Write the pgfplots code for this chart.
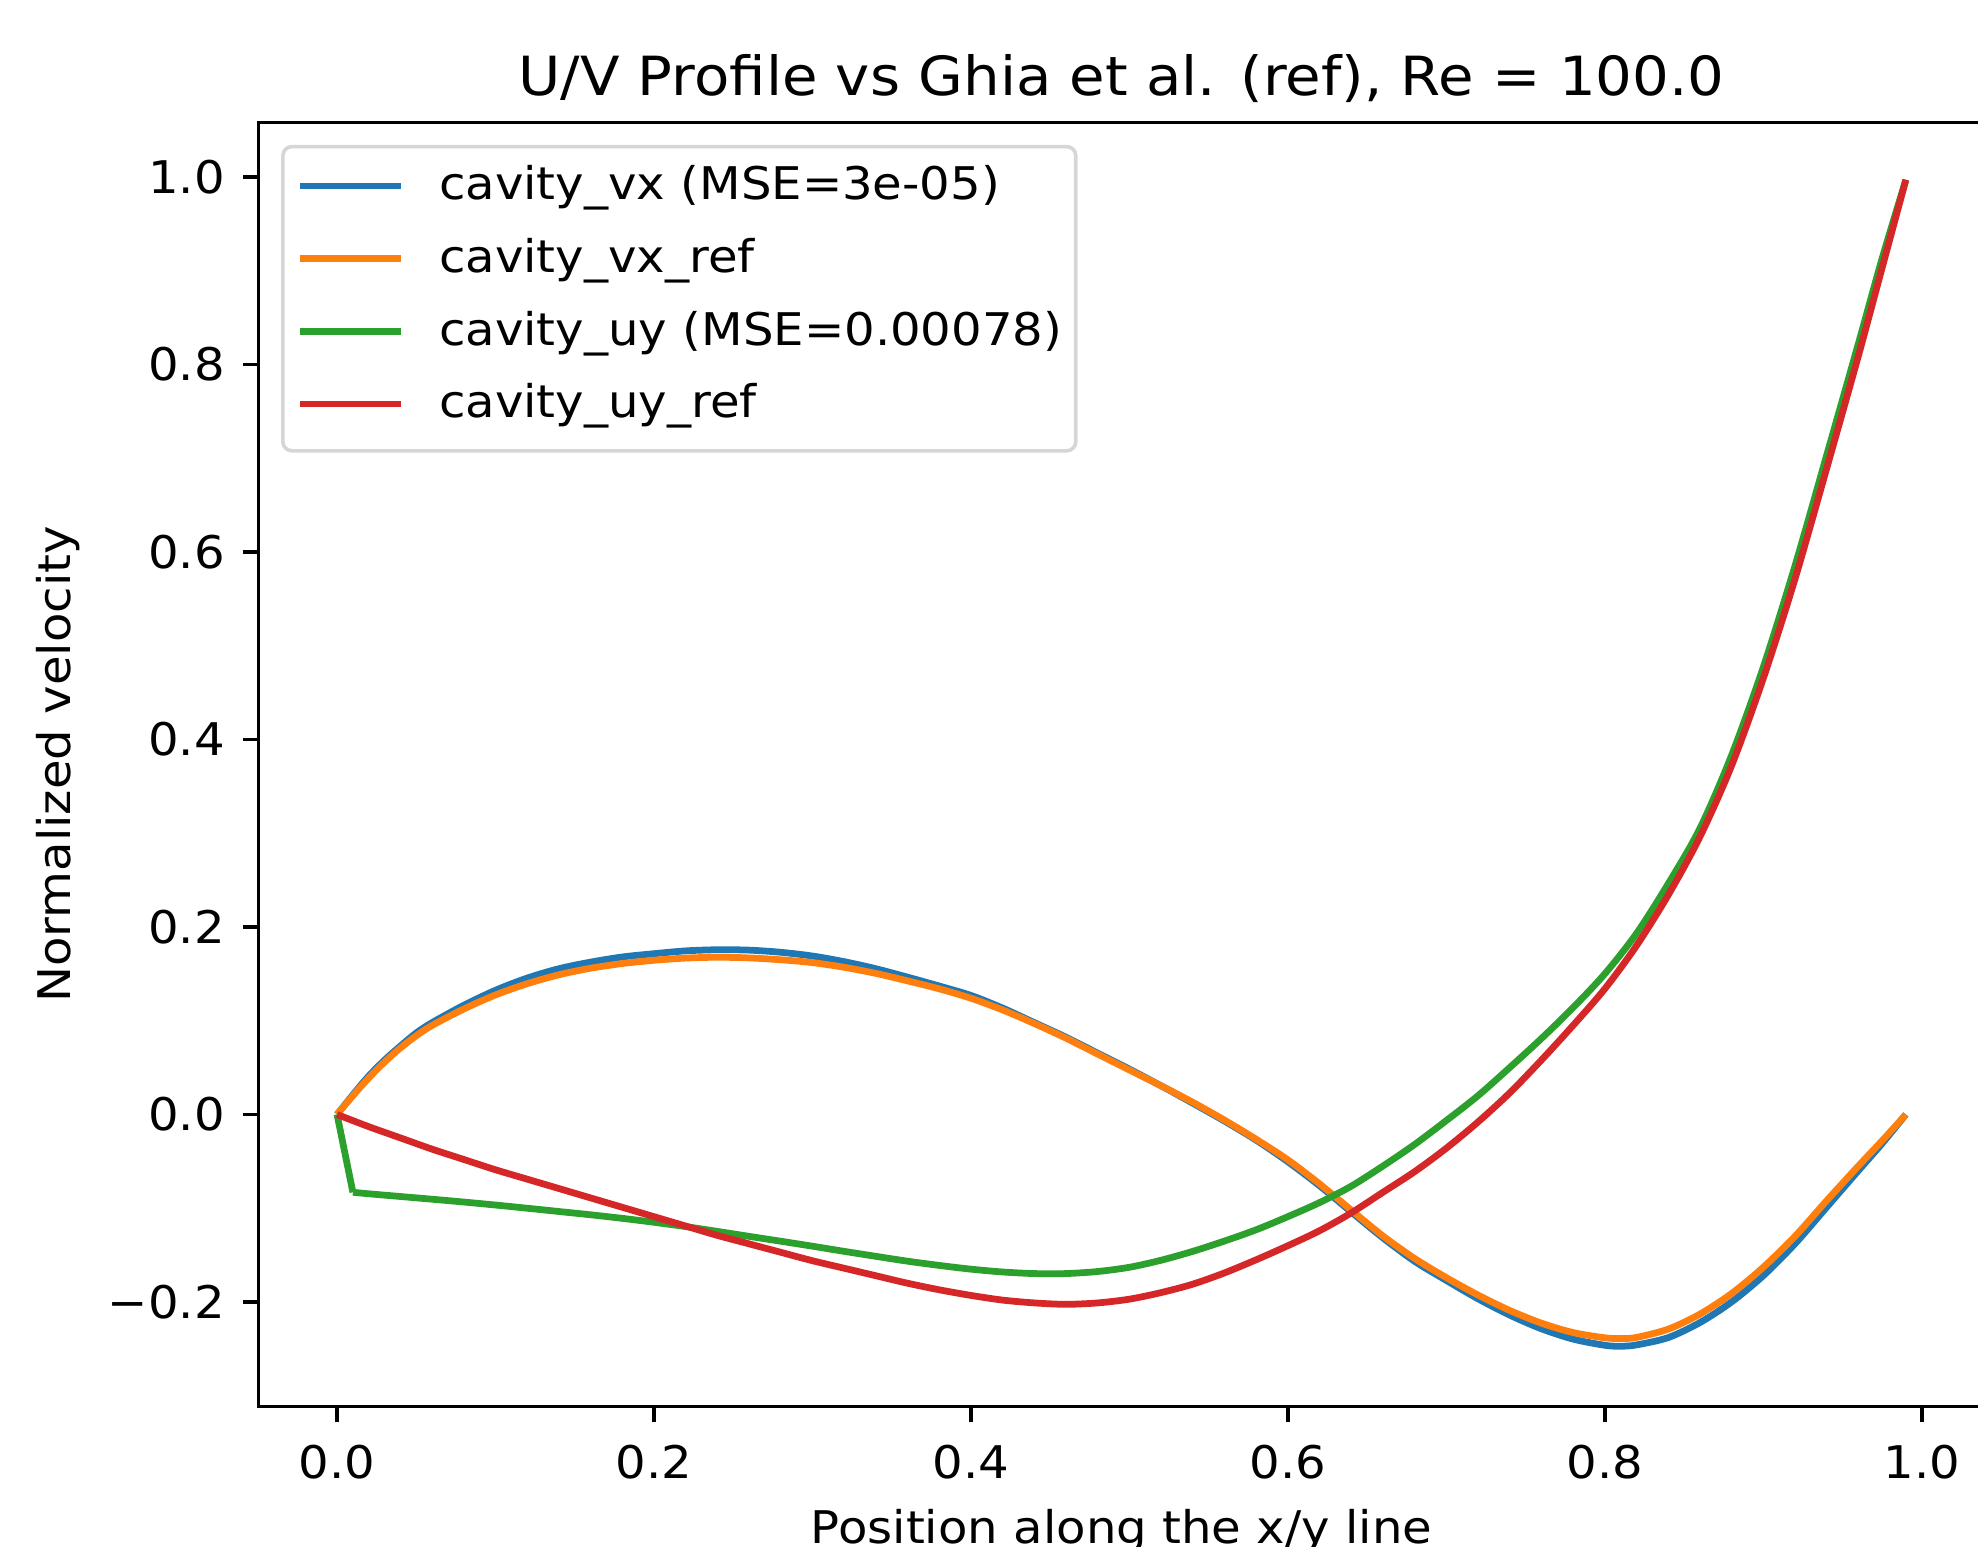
\documentclass[border=0pt]{standalone}
\usepackage{fontspec}
\setmainfont{DejaVu Sans}[FakeStretch=1.07]
\usepackage{pgfplots}
\pgfplotsset{compat=1.18}
\definecolor{tabblue}{HTML}{1F77B4}
\definecolor{taborange}{HTML}{FF7F0E}
\definecolor{tabgreen}{HTML}{2CA02C}
\definecolor{tabred}{HTML}{D62728}
\begin{document}
\begin{tikzpicture}
\useasboundingbox (-57.47pt,-30.96pt) rectangle (382.09pt,312.6pt);
\clip (-57.47pt,-30.96pt) rectangle (382.09pt,312.6pt);
\begin{axis}[
  at={(0pt,0pt)}, anchor=south west,
  scale only axis, width=383.49pt, height=285.42pt,
  xmin=-0.0495, xmax=1.0395, ymin=-0.3117, ymax=1.0583,
  axis line style={line width=0.8pt, black},
  tick align=outside, major tick length=3.5pt,
  every tick/.style={black, line width=0.8pt},
  tick pos=left,
  /pgf/number format/assume math mode=true,
  xtick={0,0.2,0.4,0.6,0.8,1.0}, xticklabels={0.0,0.2,0.4,0.6,0.8,1.0},
  ytick={-0.2,0,0.2,0.4,0.6,0.8,1.0}, yticklabels={−0.2,0.0,0.2,0.4,0.6,0.8,1.0},
  ticklabel style={font=\fontsize{10}{12}\selectfont, inner sep=0pt},
  xticklabel style={anchor=base, yshift=-12.4pt},
  yticklabel style={anchor=east, xshift=-3.8pt},
  title={U/V Profile vs Ghia et al. (ref), Re = 100.0},
  title style={at={(axis description cs:0.5,1)}, anchor=base, inner sep=0pt, font=\fontsize{12}{14.4}\selectfont},
  xlabel={Position along the x/y line},
  xlabel style={at={(axis description cs:0.5,0)}, anchor=base, yshift=-30.4pt, inner sep=0pt, font=\fontsize{10}{12}\selectfont},
  ylabel={Normalized velocity},
  ylabel style={at={(axis description cs:-0.1160,0.5)}, anchor=center, inner sep=0pt, font=\fontsize{10}{12}\selectfont},
  legend style={at={(axis description cs:0,1)}, anchor=north west, xshift=5pt, yshift=-5pt,
    draw=black!16, line width=0.8pt, rounded corners=2pt, fill=white,
    inner xsep=3pt, inner ysep=4pt, row sep=5pt, column sep=7.8pt,
    font=\fontsize{10}{12}\selectfont,
    nodes={inner sep=0pt, text height=7.8pt, text depth=3.35pt}},
  legend cell align=left,
  legend image code/.code={\draw[#1, line width=1.5pt, line cap=butt] (0pt,0.8pt) -- (22.4pt,0.8pt);},
]
\addplot[tabblue, line width=1.5pt, smooth, tension=0.5, line join=round] coordinates {
(0,0) (0.01,0.021) (0.02,0.041) (0.03,0.058) (0.04,0.073) (0.05,0.087) (0.06,0.098)
(0.08,0.1165) (0.10,0.1325) (0.12,0.1455) (0.14,0.1555) (0.16,0.1625) (0.18,0.168) (0.20,0.1715)
(0.22,0.1745) (0.24,0.1757) (0.26,0.1753) (0.28,0.1730) (0.30,0.169) (0.32,0.163) (0.34,0.1555)
(0.36,0.1465) (0.38,0.137) (0.40,0.127) (0.42,0.1135) (0.44,0.098) (0.46,0.0824) (0.48,0.0654)
(0.50,0.0484) (0.52,0.0306) (0.54,0.012) (0.56,-0.007) (0.58,-0.0274) (0.60,-0.0504) (0.62,-0.076)
(0.64,-0.104) (0.66,-0.1316) (0.68,-0.1566) (0.70,-0.177) (0.72,-0.1966) (0.74,-0.214) (0.76,-0.2286)
(0.78,-0.2396) (0.80,-0.2462) (0.81,-0.2472) (0.82,-0.2458) (0.84,-0.238) (0.86,-0.222) (0.88,-0.200)
(0.90,-0.172) (0.92,-0.138) (0.94,-0.099) (0.96,-0.060) (0.975,-0.031) (0.99,0.000)};
\addlegendentry{cavity\_vx (MSE=3e-05)}
\addplot[taborange, line width=1.5pt, smooth, tension=0.5, line join=round] coordinates {
(0,0) (0.01,0.020) (0.02,0.039) (0.03,0.056) (0.04,0.071) (0.05,0.084) (0.06,0.095)
(0.08,0.1125) (0.10,0.1275) (0.12,0.1395) (0.14,0.149) (0.16,0.156) (0.18,0.161) (0.20,0.1645)
(0.22,0.1668) (0.24,0.1677) (0.26,0.1670) (0.28,0.1650) (0.30,0.162) (0.32,0.157) (0.34,0.1505)
(0.36,0.1425) (0.38,0.134) (0.40,0.124) (0.42,0.1115) (0.44,0.097) (0.46,0.0814) (0.48,0.0644)
(0.50,0.0474) (0.52,0.0306) (0.54,0.013) (0.56,-0.006) (0.58,-0.0264) (0.60,-0.0484) (0.62,-0.074)
(0.64,-0.102) (0.66,-0.1296) (0.68,-0.1536) (0.70,-0.174) (0.72,-0.1926) (0.74,-0.209) (0.76,-0.2226)
(0.78,-0.2326) (0.80,-0.2382) (0.81,-0.239) (0.82,-0.2378) (0.84,-0.229) (0.86,-0.213) (0.88,-0.191)
(0.90,-0.163) (0.92,-0.130) (0.94,-0.092) (0.96,-0.055) (0.975,-0.028) (0.99,0.000)};
\addlegendentry{cavity\_vx\_ref}
\addplot[tabgreen, line width=1.5pt, line join=round, forget plot] coordinates {
(0,0) (0.01,-0.083)};
\addplot[tabgreen, line width=1.5pt, smooth, tension=0.5, line join=round] coordinates {
(0.01,-0.083) (0.02,-0.0846) (0.04,-0.0875) (0.06,-0.0904) (0.08,-0.0934) (0.10,-0.0966)
(0.12,-0.1000) (0.14,-0.1035) (0.16,-0.1070) (0.18,-0.1108) (0.20,-0.1150) (0.22,-0.1196)
(0.24,-0.1247) (0.26,-0.1300) (0.28,-0.1352) (0.30,-0.1405) (0.32,-0.1460) (0.34,-0.1513)
(0.36,-0.1565) (0.38,-0.1610) (0.40,-0.1650) (0.42,-0.1680) (0.44,-0.1697) (0.46,-0.1697)
(0.48,-0.1675) (0.50,-0.1630) (0.52,-0.1555) (0.54,-0.1460) (0.56,-0.1350) (0.58,-0.1230)
(0.60,-0.1090) (0.62,-0.0940) (0.64,-0.0765) (0.66,-0.0550) (0.68,-0.0320) (0.70,-0.0065)
(0.72,0.0200) (0.74,0.0500) (0.76,0.0810) (0.78,0.1140) (0.80,0.1500) (0.82,0.1930)
(0.84,0.2460) (0.86,0.3050) (0.88,0.3830) (0.90,0.4770) (0.92,0.5850) (0.94,0.7030)
(0.96,0.8220) (0.975,0.9130) (0.99,0.997)};
\addlegendentry{cavity\_uy (MSE=0.00078)}
\addplot[tabred, line width=1.5pt, smooth, tension=0.5, line join=round] coordinates {
(0,0) (0.02,-0.013) (0.04,-0.025) (0.06,-0.037) (0.08,-0.048) (0.10,-0.059) (0.12,-0.069)
(0.14,-0.079) (0.16,-0.089) (0.18,-0.099) (0.20,-0.109) (0.22,-0.119) (0.24,-0.129)
(0.26,-0.138) (0.28,-0.147) (0.30,-0.156) (0.32,-0.164) (0.34,-0.172) (0.36,-0.180)
(0.38,-0.187) (0.40,-0.193) (0.42,-0.198) (0.44,-0.201) (0.46,-0.2025) (0.48,-0.201)
(0.50,-0.197) (0.52,-0.190) (0.54,-0.181) (0.56,-0.169) (0.58,-0.155) (0.60,-0.140)
(0.62,-0.124) (0.64,-0.105) (0.66,-0.083) (0.68,-0.061) (0.70,-0.036) (0.72,-0.008)
(0.74,0.023) (0.76,0.058) (0.78,0.095) (0.80,0.134) (0.82,0.180) (0.84,0.234) (0.86,0.296)
(0.88,0.372) (0.90,0.465) (0.92,0.571) (0.94,0.689) (0.96,0.809) (0.975,0.903) (0.99,0.997)};
\addlegendentry{cavity\_uy\_ref}
\end{axis}
\end{tikzpicture}
\end{document}
